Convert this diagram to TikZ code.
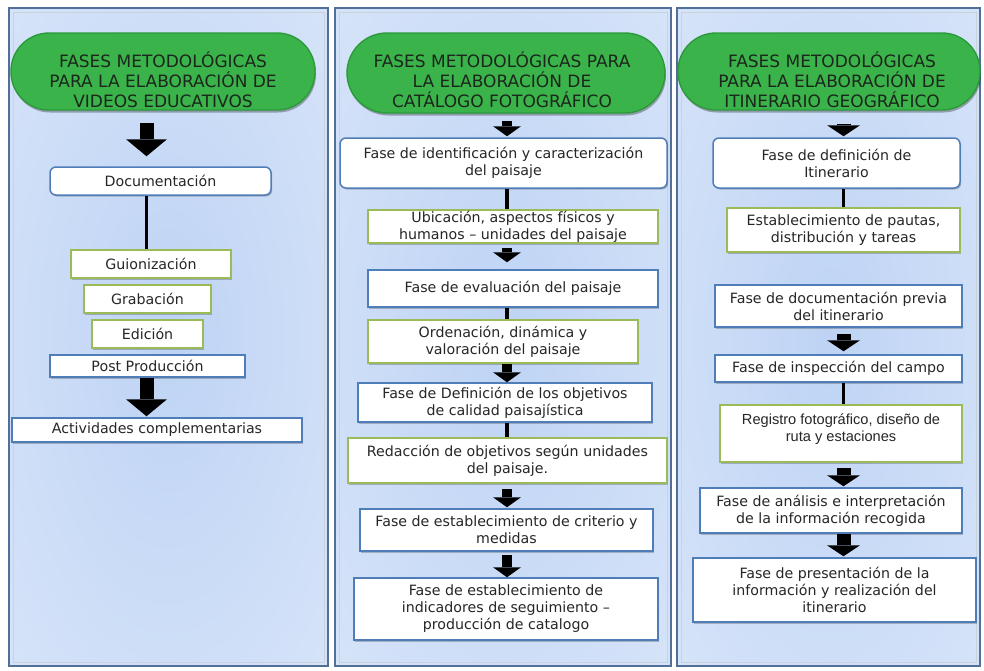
\documentclass[tikz,border=0pt]{standalone}
\usepackage{fontspec}
\setmainfont{DejaVu Sans}
\newfontfamily\libsans{Liberation Sans}
\usetikzlibrary{arrows.meta,shadows}
\definecolor{pin}{HTML}{BED3F4}
\definecolor{pmid}{HTML}{D2E1F8}
\definecolor{pout}{HTML}{F0F5FD}
\definecolor{panelb}{HTML}{526F98}
\definecolor{panelin}{HTML}{C9D2DE}
\definecolor{boxblue}{HTML}{4F7DB8}
\definecolor{boxgreen}{HTML}{9BBB59}
\definecolor{hgreen}{HTML}{3AB34A}
\definecolor{hgreendk}{HTML}{2C9A3B}
\definecolor{txt}{HTML}{262626}
\definecolor{htxt}{HTML}{1C261C}
\pgfdeclareradialshading{panelshade}{\pgfpoint{0bp}{0bp}}{color(0bp)=(pin); color(30bp)=(pmid); color(72bp)=(pout)}
\newcommand\bodyf{\fontsize{14.2}{17}\selectfont}
\newcommand\regf{\fontsize{14.6}{17}\selectfont}
\newcommand\hdrf{\fontsize{17}{20}\selectfont}
\tikzset{
  box/.style={draw=boxblue, line width=1.5pt, fill=white, inner sep=0pt, align=center,
    font=\bodyf, text=txt,
    drop shadow={shadow xshift=1.2pt, shadow yshift=-1.5pt, opacity=0.22, fill=black}},
  gbox/.style={box, draw=boxgreen, line width=2pt},
  rbox/.style={box, rounded corners=6pt},
  hdr/.style={fill=hgreen, draw=hgreendk, line width=1.4pt, inner sep=0pt,
    drop shadow={shadow xshift=1pt, shadow yshift=-2.5pt, opacity=0.3, fill=black}},
  hdrtxt/.style={font=\hdrf, align=center, text=htxt, inner sep=0pt},
  conn/.style={draw=black, line width=3.5pt},
  arrA/.style={draw=black, line width=14pt, -{Triangle[length=17pt, width=41pt, line width=0pt]}},
  arrB/.style={draw=black, line width=10pt, -{Triangle[length=10pt, width=28pt, line width=0pt]}},
  arrC/.style={draw=black, line width=14pt, -{Triangle[length=11pt, width=33pt, line width=0pt]}},
}
\begin{document}
\begin{tikzpicture}[x=1pt, y=-1pt]
\useasboundingbox (0,0) rectangle (984,670);
\fill[white] (0,0) rectangle (984,670);
% panels
\foreach \a/\b in {9/328, 335/671, 677/980} {
  \shade[shading=panelshade] (\a,8) rectangle (\b,666);
  \draw[panelin, line width=1pt] (\a+4,12) rectangle (\b-4,662);
  \draw[panelb, line width=1.6pt] (\a,8) rectangle (\b,666);
}
\coordinate (c1) at (146.5,0);
\coordinate (c2) at (507,0);
\coordinate (c3) at (843.5,0);

% ---------- panel 1 ----------
\node[hdr, minimum width=304pt, minimum height=77pt, rounded corners=38pt] (h1) at (163,71.5) {};
\node[hdrtxt] (h1t) at (163,80) {FASES METODOLÓGICAS\\PARA LA ELABORACIÓN DE\\VIDEOS EDUCATIVOS};
\node[rbox, minimum width=221pt, minimum height=28pt] (doc1) at (160.5,181) {Documentación};
\node[gbox, minimum width=160pt, minimum height=28pt] (gui) at (151,264) {Guionización};
\node[gbox, minimum width=127pt, minimum height=28pt] (grab) at (147.5,299) {Grabación};
\node[gbox, minimum width=111pt, minimum height=28pt] (edic) at (147.5,334) {Edición};
\node[box, minimum width=195pt, minimum height=22pt] (post) at (147.5,366) {Post Producción};
\node[box, minimum width=290pt, minimum height=24pt] (act) at (157,430) {Actividades complementarias};

\draw[arrA, shorten <=12pt, shorten >=10pt] (h1.south -| c1) -- (doc1.north -| c1);
\draw[conn] (doc1.south -| c1) -- (gui.north -| c1);
\draw[arrA, shorten >=1pt] (post.south -| c1) -- (act.north -| c1);

% ---------- panel 2 ----------
\node[hdr, minimum width=318pt, minimum height=80pt, rounded corners=40pt] (h2) at (506,73) {};
\node[hdrtxt] (h2t) at (502,80) {FASES METODOLÓGICAS PARA\\LA ELABORACIÓN DE\\CATÁLOGO FOTOGRÁFICO};
\node[rbox, minimum width=327pt, minimum height=50pt] (iden) at (503.5,163) {Fase de identificación y caracterización\\del paisaje};
\node[gbox, minimum width=290pt, minimum height=33pt] (ubic) at (513,226.5) {Ubicación, aspectos físicos y\\humanos – unidades del paisaje};
\node[box, minimum width=290pt, minimum height=37pt] (eval) at (513,288.5) {Fase de evaluación del paisaje};
\node[gbox, minimum width=270pt, minimum height=43pt] (orde) at (503,341.5) {Ordenación, dinámica y\\valoración del paisaje};
\node[box, minimum width=294pt, minimum height=39pt] (defi) at (505,402.5) {Fase de Definición de los objetivos\\de calidad paisajística};
\node[gbox, minimum width=319pt, minimum height=45pt] (reda) at (507.5,460.5) {Redacción de objetivos según unidades\\del paisaje.};
\node[box, minimum width=293pt, minimum height=42pt] (crit) at (506.5,530) {Fase de establecimiento de criterio y\\medidas};
\node[box, minimum width=304pt, minimum height=62pt] (indi) at (506,609) {Fase de establecimiento de\\indicadores de seguimiento –\\producción de catalogo};

\draw[arrB, shorten <=7pt, shorten >=1pt] (h2.south -| c2) -- (iden.north -| c2);
\draw[conn] (iden.south -| c2) -- (ubic.north -| c2);
\draw[arrB, shorten <=4pt, shorten >=7pt] (ubic.south -| c2) -- (eval.north -| c2);
\draw[conn] (eval.south -| c2) -- (orde.north -| c2);
\draw[arrB] (orde.south -| c2) -- (defi.north -| c2);
\draw[conn] (defi.south -| c2) -- (reda.north -| c2);
\draw[arrB, shorten <=5pt, shorten >=1pt] (reda.south -| c2) -- (crit.north -| c2);
\draw[arrB, shorten <=3pt] (crit.south -| c2) -- (indi.north -| c2);

% ---------- panel 3 ----------
\node[hdr, minimum width=302pt, minimum height=77pt, rounded corners=38pt] (h3) at (829,71.5) {};
\node[hdrtxt] (h3t) at (832,80) {FASES METODOLÓGICAS\\PARA LA ELABORACIÓN DE\\ITINERARIO GEOGRÁFICO};
\node[rbox, minimum width=247pt, minimum height=50pt] (idef) at (836.5,163) {Fase de definición de\\Itinerario};
\node[gbox, minimum width=233pt, minimum height=44pt] (paut) at (843.5,230) {Establecimiento de pautas,\\distribución y tareas};
\node[box, minimum width=247pt, minimum height=42pt] (doc3) at (838.5,306) {Fase de documentación previa\\del itinerario};
\node[box, minimum width=247pt, minimum height=27pt] (insp) at (838.5,368.5) {Fase de inspección del campo};
\node[gbox, minimum width=242pt, minimum height=57pt, font=\libsans\regf, text depth=12pt] (regi) at (841,433.5) {Registro fotográfico, diseño de\\ruta y estaciones};
\node[box, minimum width=262pt, minimum height=45pt] (anal) at (831,510.5) {Fase de análisis e interpretación\\de la información recogida};
\node[box, minimum width=283pt, minimum height=64pt] (pres) at (834.5,590) {Fase de presentación de la\\información y realización del\\itinerario};

\draw[arrC, shorten <=13pt, shorten >=1pt] (h3.south -| c3) -- (idef.north -| c3);
\draw[conn] (idef.south -| c3) -- (paut.north -| c3);
\draw[arrC, shorten <=6pt, shorten >=3pt] (doc3.south -| c3) -- (insp.north -| c3);
\draw[conn] (insp.south -| c3) -- (regi.north -| c3);
\draw[arrC, shorten <=5pt, shorten >=1pt] (regi.south -| c3) -- (anal.north -| c3);
\draw[arrC, shorten >=1pt] (anal.south -| c3) -- (pres.north -| c3);
\end{tikzpicture}
\end{document}
